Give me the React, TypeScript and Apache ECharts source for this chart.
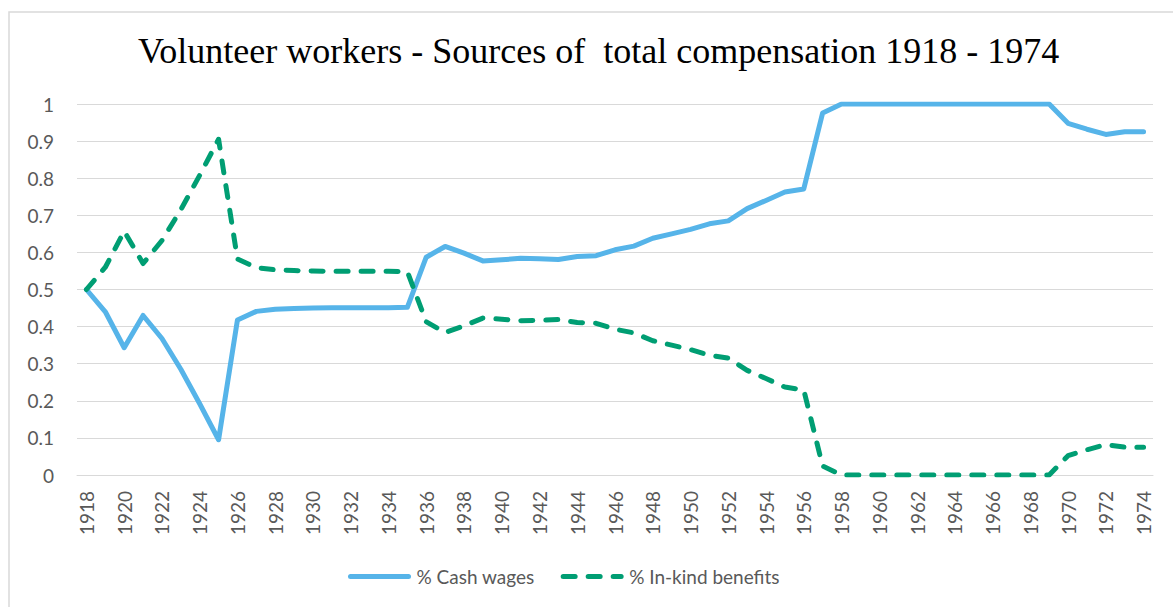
import React, { useEffect, useRef } from "react";
import * as echarts from "echarts";

const years: string[] = [];
for (let y = 1918; y <= 1974; y++) years.push(String(y));

const cashWages = [
  0.5, 0.44, 0.343, 0.43, 0.368, 0.285, 0.192, 0.095, 0.418, 0.441,
  0.447, 0.449, 0.45, 0.451, 0.451, 0.451, 0.451, 0.452, 0.587, 0.616,
  0.598, 0.577, 0.58, 0.584, 0.583, 0.581, 0.589, 0.591, 0.607, 0.617,
  0.638, 0.65, 0.662, 0.677, 0.685, 0.718, 0.74, 0.763, 0.771, 0.976,
  1, 1, 1, 1, 1, 1, 1, 1, 1, 1,
  1, 1, 0.948, 0.932, 0.918, 0.925, 0.925,
];

const inKindBenefits = [
  0.5, 0.56, 0.657, 0.57, 0.632, 0.715, 0.808, 0.905, 0.582, 0.559,
  0.553, 0.551, 0.55, 0.549, 0.549, 0.549, 0.549, 0.548, 0.413, 0.384,
  0.402, 0.423, 0.42, 0.416, 0.417, 0.419, 0.411, 0.409, 0.393, 0.383,
  0.362, 0.35, 0.338, 0.323, 0.315, 0.282, 0.26, 0.237, 0.229, 0.024,
  0, 0, 0, 0, 0, 0, 0, 0, 0, 0,
  0, 0, 0.052, 0.068, 0.082, 0.075, 0.075,
];

const TITLE = "Volunteer workers - Sources of  total compensation 1918 - 1974";
const SERIES_NAMES = ["% Cash wages", "% In-kind benefits"];

export default function App() {
  const ref = useRef<HTMLDivElement>(null);
  useEffect(() => {
    if (!ref.current) return;
    const chart = echarts.init(ref.current, undefined, { renderer: "svg" });
    chart.setOption({
      animation: false,
      backgroundColor: "#ffffff",
      title: {
        text: TITLE,
        left: 133,
        top: 28,
        textStyle: {
          fontFamily: "Liberation Serif",
          fontWeight: "normal",
          fontSize: 36,
          color: "#000000",
        },
      },
      legend: {
        bottom: 16,
        left: 343,
        itemWidth: 58,
        itemHeight: 14,
        itemGap: 26,
        itemStyle: { opacity: 0 },
        lineStyle: { width: 5, cap: "round" },
        textStyle: { fontFamily: "Lato", fontSize: 19, color: "#595959", padding: [0, 0, 0, 3] },
        data: SERIES_NAMES,
      },
      grid: { left: 77, right: 20, top: 104, bottom: 132 },
      xAxis: {
        type: "category",
        data: years,
        boundaryGap: true,
        axisLine: { lineStyle: { color: "#d9d9d9", width: 1 } },
        axisTick: { show: false },
        axisLabel: {
          rotate: 90,
          interval: 1,
          margin: 16,
          fontFamily: "Lato",
          fontSize: 19,
          color: "#595959",
        },
      },
      yAxis: {
        type: "value",
        min: 0,
        max: 1,
        interval: 0.1,
        axisLine: { show: false },
        axisTick: { show: false },
        splitLine: { lineStyle: { color: "#d9d9d9", width: 1 } },
        axisLabel: {
          margin: 23,
          fontFamily: "Lato",
          fontSize: 19,
          color: "#595959",
          formatter: (v: number) => String(Math.round(v * 10) / 10),
        },
      },
      series: [
        {
          name: SERIES_NAMES[0],
          type: "line",
          data: cashWages,
          symbol: "none",
          color: "#56B4E9",
          lineStyle: { width: 5, color: "#56B4E9", cap: "round", join: "round" },
        },
        {
          name: SERIES_NAMES[1],
          type: "line",
          data: inKindBenefits,
          symbol: "none",
          color: "#009E73",
          lineStyle: {
            width: 5,
            color: "#009E73",
            type: [12, 13],
            cap: "round",
            join: "round",
          },
        },
      ],
      graphic: [
        {
          type: "rect",
          left: 6.5,
          top: 9.5,
          shape: { width: 1200, height: 640 },
          style: { fill: "none", stroke: "#d9d9d9", lineWidth: 1.5 },
          silent: true,
        },
      ],
    });
    return () => chart.dispose();
  }, []);
  return (
    <div
      ref={ref}
      style={{ position: "fixed", left: 0, top: 0, width: 1173, height: 607 }}
    />
  );
}
